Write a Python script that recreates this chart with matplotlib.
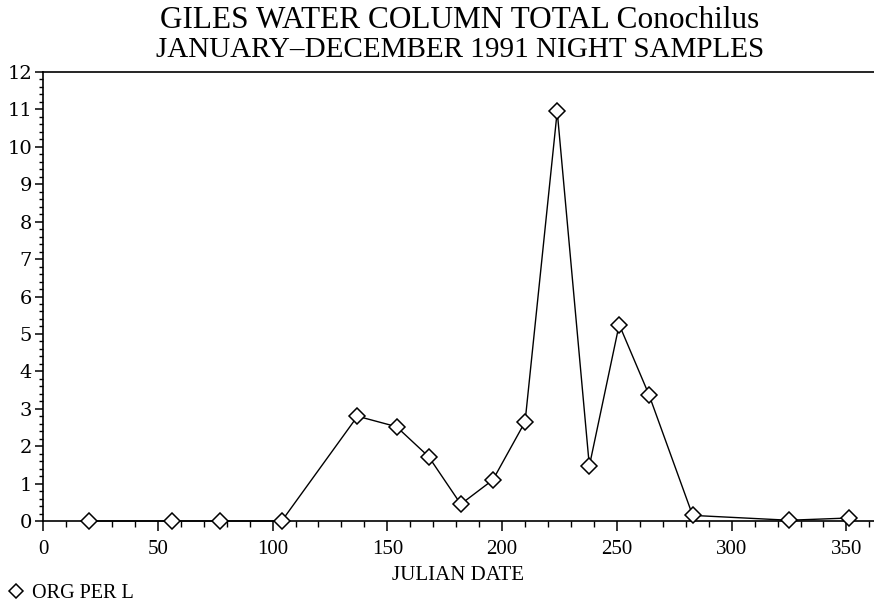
import matplotlib
matplotlib.use("Agg")
import matplotlib.pyplot as plt
from matplotlib.ticker import MultipleLocator
from matplotlib.lines import Line2D

# Data
julian_date = [20, 56, 77, 104, 137, 154, 168, 182, 196, 210, 224, 238, 251, 264, 283, 325, 351]
org_per_l = [0, 0, 0, 0, 2.8, 2.52, 1.72, 0.45, 1.1, 2.65, 10.95, 1.47, 5.25, 3.37, 0.15, 0.02, 0.08]
title_lines = ["GILES WATER COLUMN TOTAL Conochilus", "JANUARY\u2013DECEMBER 1991 NIGHT SAMPLES"]
x_label = "JULIAN DATE"
series_label = "ORG PER L"

fig = plt.figure(figsize=(8.74, 6.10), dpi=100)
ax = fig.add_axes([43/874, 1 - 521/610, 1 - 43/874, (521 - 72)/610])

ax.plot(julian_date, org_per_l, color="black", lw=1.0, marker="D", ms=8,
        mfc="white", mec="black", mew=1.1, zorder=3, clip_on=False)

ax.set_xlim(0, 362)
ax.set_ylim(0, 12)
ax.xaxis.set_major_locator(MultipleLocator(50))
ax.xaxis.set_minor_locator(MultipleLocator(10))
ax.yaxis.set_major_locator(MultipleLocator(1))
ax.yaxis.set_minor_locator(MultipleLocator(0.2))

ax.spines["right"].set_visible(False)
for s in ["left", "bottom", "top"]:
    ax.spines[s].set_linewidth(1.2)

ax.tick_params(axis="x", which="major", direction="out", length=7, width=1.1, labelsize=15, pad=7)
ax.tick_params(axis="x", which="minor", direction="out", length=4, width=1.0)
ax.tick_params(axis="y", which="major", direction="out", length=6, width=1.1, labelsize=14, pad=2)
ax.tick_params(axis="y", which="minor", direction="out", length=3, width=1.0)

for lab in ax.get_xticklabels():
    lab.set_fontfamily("Liberation Serif")
for lab in ax.get_yticklabels():
    lab.set_fontfamily("DejaVu Serif")

ax.set_xlabel(x_label, fontsize=15, family="Liberation Serif", labelpad=5)

fig.text(0.526, 1 - 20/610, title_lines[0], ha="center", va="center",
         fontsize=22.5, family="Liberation Serif")
fig.text(0.526, 1 - 50/610, title_lines[1], ha="center", va="center",
         fontsize=21, family="Liberation Serif")

handle = Line2D([], [], color="black", lw=0, marker="D", ms=7, mfc="white", mec="black", mew=1.1)
fig.legend([handle], [series_label], loc="lower left", bbox_to_anchor=(0.0, -0.005),
           frameon=False, handlelength=0.6, handletextpad=0.5, borderaxespad=0.1,
           prop={"family": "Liberation Serif", "size": 14.5})

fig.savefig("out.png", dpi=100)
